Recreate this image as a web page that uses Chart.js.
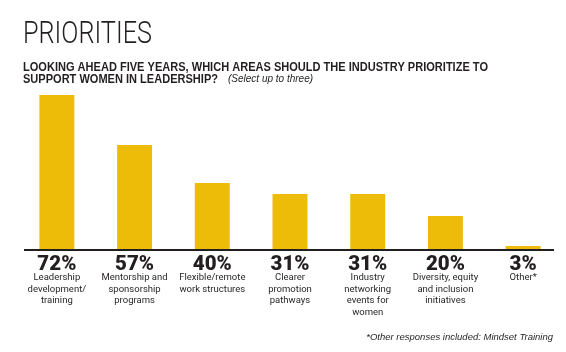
<!DOCTYPE html>
<html>
<head>
<meta charset="utf-8">
<script src="https://cdn.jsdelivr.net/npm/chart.js@4/dist/chart.umd.min.js"></script>
<style>
  body { margin: 0; background: #fff; }
  #wrap { width: 566px; height: 352px; }
</style>
</head>
<body>
<div id="wrap"><canvas id="bar" width="566" height="352"></canvas></div>
<script>
// categories, each split into the lines used under the bars
const categories = [
  ["Leadership", "development/", "training"],
  ["Mentorship and", "sponsorship", "programs"],
  ["Flexible/remote", "work structures"],
  ["Clearer", "promotion", "pathways"],
  ["Industry", "networking", "events for", "women"],
  ["Diversity, equity", "and inclusion", "initiatives"],
  ["Other*"]
];
// printed shares (%)
const shares = [72, 57, 40, 31, 31, 20, 3];
// bar lengths as drawn in the original (its bars are not to scale), in % units of the tallest bar
const barHeights = [72, 48.6, 30.9, 25.7, 25.7, 15.4, 1.4];

const title = "PRIORITIES";
const subtitle = ["LOOKING AHEAD FIVE YEARS, WHICH AREAS SHOULD THE INDUSTRY PRIORITIZE TO", "SUPPORT WOMEN IN LEADERSHIP?"];
const subtitleNote = "(Select up to three)";
const footnote = "*Other responses included: Mindset Training";

const gold = "#edbc09";
const ink = "#231f20";

const textPlugin = {
  id: "texts",
  afterDraw(chart) {
    const ctx = chart.ctx;
    const xScale = chart.scales.x;
    const area = chart.chartArea;
    ctx.save();
    ctx.fillStyle = ink;
    ctx.textBaseline = "alphabetic";

    // headline
    ctx.textAlign = "left";
    ctx.font = "300 32px Roboto";
    ctx.fillText(title, 23, 43, 129);

    ctx.font = "bold 12.5px 'Liberation Sans'";
    ctx.fillText(subtitle[0], 23, 71, 465);
    ctx.fillText(subtitle[1], 23, 82.5, 195);
    ctx.font = "italic 10px 'Liberation Sans'";
    ctx.fillText(subtitleNote, 228, 82, 86);

    // baseline
    ctx.strokeStyle = ink;
    ctx.lineWidth = 2;
    ctx.beginPath();
    ctx.moveTo(24, area.bottom + 1);
    ctx.lineTo(554, area.bottom + 1);
    ctx.stroke();

    // labels under bars
    ctx.textAlign = "center";
    categories.forEach((lines, i) => {
      const x = xScale.getPixelForValue(i);
      ctx.font = "900 20.5px Roboto";
      ctx.fillText(shares[i] + "%", x, 269.5);
      ctx.fillStyle = "#2a2627";
      ctx.font = "9.5px Roboto";
      lines.forEach((line, j) => {
        ctx.fillText(line, x, 280 + j * 11.7);
      });
      ctx.fillStyle = ink;
    });

    // footnote
    ctx.textAlign = "right";
    ctx.font = "italic 9.5px 'Liberation Sans'";
    ctx.fillText(footnote, 553, 340);
    ctx.restore();
  }
};

new Chart(document.getElementById("bar"), {
  type: "bar",
  data: {
    labels: categories,
    datasets: [{
      data: barHeights,
      backgroundColor: gold,
      borderWidth: 0,
      categoryPercentage: 1,
      barPercentage: 0.45
    }]
  },
  options: {
    responsive: false,
    animation: false,
    layout: { padding: { left: 18, right: 4, top: 95, bottom: 103 } },
    plugins: { legend: { display: false }, tooltip: { enabled: false } },
    scales: {
      x: { display: false, grid: { display: false } },
      y: { display: false, min: 0, max: 72, grid: { display: false } }
    }
  },
  plugins: [textPlugin]
});
</script>
</body>
</html>
